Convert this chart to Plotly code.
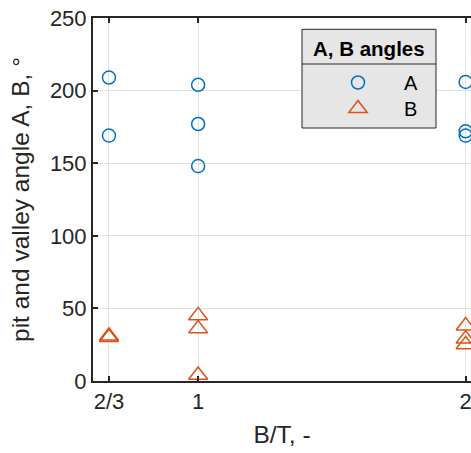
import plotly.graph_objects as go

# Data
a_x = [2/3, 2/3, 1, 1, 1, 2, 2, 2]
a_y = [209, 169, 204, 177, 148, 206, 172, 169]
b_x = [2/3, 2/3, 1, 1, 1, 2, 2, 2]
b_y = [31, 30, 45, 36, 4, 38, 29, 25]
x_tickvals = [2/3, 1, 2]
x_ticktext = ["2/3", "1", "2"]
y_tickvals = [0, 50, 100, 150, 200, 250]

FONT = "Liberation Sans, Arial, sans-serif"
BLUE = "#0072BD"
ORANGE = "#D95319"
AX = "#262626"

W, H = 471, 453
L, R, T, B = 93, 0, 18, 72
pw, ph = W - L - R, H - T - B

def px(x):
    return (x - L) / pw

def py(y):
    return (H - B - y) / ph

fig = go.Figure()
fig.add_trace(go.Scatter(
    x=a_x, y=a_y, mode="markers", name="A", legend="legend",
    marker=dict(symbol="circle-open", size=13, color=BLUE, line=dict(width=1.5, color=BLUE)),
    cliponaxis=False,
))
fig.add_trace(go.Scatter(
    x=b_x, y=b_y, mode="markers", name="B", legend="legend2",
    marker=dict(symbol="triangle-up-open", size=16.5, color=ORANGE, line=dict(width=1.5, color=ORANGE)),
    cliponaxis=False,
))

leg_common = dict(
    xanchor="left", yanchor="top",
    bgcolor="rgba(0,0,0,0)", borderwidth=0,
    itemwidth=82, font=dict(family=FONT, size=20, color="black"),
)

fig.update_layout(
    width=W, height=H,
    margin=dict(l=L, r=R, t=T, b=B),
    paper_bgcolor="white", plot_bgcolor="white",
    font=dict(family=FONT, size=22, color=AX),
    showlegend=True,
    legend=dict(x=px(312), y=py(63), **leg_common),
    legend2=dict(x=px(312), y=py(89), **leg_common),
    xaxis=dict(
        range=[0.607, 2.02],
        tickvals=x_tickvals, ticktext=x_ticktext,
        showgrid=True, gridcolor="#e3e3e3", gridwidth=1,
        zeroline=False,
        showline=True, linecolor=AX, linewidth=2, mirror="ticks",
        ticks="inside", ticklen=5, tickwidth=1.5, tickcolor=AX,
        ticklabeloverflow="allow",
        title=dict(text="B/T, -", font=dict(size=24.5, color=AX), standoff=12),
        tickfont=dict(size=22, color=AX),
    ),
    yaxis=dict(
        range=[0, 250],
        tickvals=y_tickvals,
        showgrid=True, gridcolor="#e3e3e3", gridwidth=1,
        zeroline=False,
        showline=True, linecolor=AX, linewidth=2, mirror=False,
        ticks="inside", ticklen=5, tickwidth=1.5, tickcolor=AX,
        ticklabeloverflow="allow",
        title=dict(text="pit and valley angle A, B, °", font=dict(size=24.5, color=AX), standoff=13),
        tickfont=dict(size=22, color=AX),
    ),
    shapes=[
        dict(type="rect", xref="paper", yref="paper",
             x0=px(302), x1=px(436), y0=py(128), y1=py(29.3),
             fillcolor="#e6e6e6", line=dict(color=AX, width=1), layer="above"),
        dict(type="line", xref="paper", yref="paper",
             x0=px(302), x1=px(436), y0=py(64), y1=py(64),
             line=dict(color=AX, width=1), layer="above"),
    ],
    annotations=[
        dict(text="<b>A, B angles</b>", xref="paper", yref="paper",
             x=px(369), y=py(49), xanchor="center", yanchor="middle",
             showarrow=False, font=dict(family=FONT, size=20.5, color="black")),
    ],
)

fig.write_html("out.html")
